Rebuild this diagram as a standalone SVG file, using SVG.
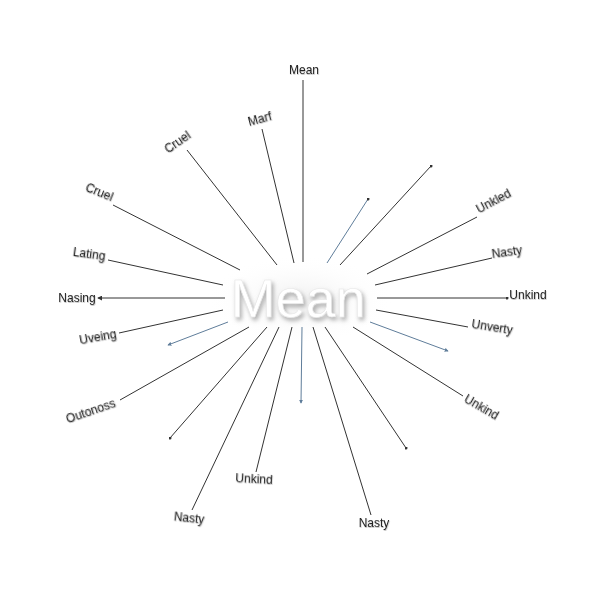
<svg xmlns="http://www.w3.org/2000/svg" width="600" height="600" viewBox="0 0 600 600">
<defs>
<style>
.ln{stroke:#333;stroke-width:1;fill:none}
.bl{stroke:#5f7d9a;stroke-width:1;fill:none}
.lb{font-family:"Liberation Sans",Arial,sans-serif;font-size:12px;fill:#222;text-anchor:middle;dominant-baseline:middle}
.hub{font-family:"Liberation Sans",Arial,sans-serif;font-size:54px;fill:#ffffff;stroke:#e6e6e6;stroke-width:0.6;text-anchor:middle}
</style>
<filter id="sh" x="-20%" y="-30%" width="140%" height="170%">
<feDropShadow dx="2" dy="3" stdDeviation="2" flood-color="#8a8a8a" flood-opacity="0.7"/>
</filter>
<filter id="ts" x="-10%" y="-30%" width="120%" height="170%">
<feDropShadow dx="0.5" dy="1" stdDeviation="0.6" flood-color="#000" flood-opacity="0.25"/>
</filter>
<radialGradient id="glow" cx="50%" cy="50%" r="50%">
<stop offset="0" stop-color="#ededed" stop-opacity="0.9"/>
<stop offset="1" stop-color="#ffffff" stop-opacity="0"/>
</radialGradient>
<marker id="ah" viewBox="0 0 6 6" refX="5" refY="3" markerWidth="5" markerHeight="5" orient="auto">
<path d="M0,0 L6,3 L0,6 z" fill="#333"/>
</marker>
<marker id="ahb" viewBox="0 0 6 6" refX="5" refY="3" markerWidth="4" markerHeight="4" orient="auto">
<path d="M0,0 L6,3 L0,6 z" fill="#5f7d9a"/>
</marker>
<marker id="dot" viewBox="0 0 4 4" refX="2" refY="2" markerWidth="3" markerHeight="3">
<circle cx="2" cy="2" r="2" fill="#333"/>
</marker>
</defs>
<rect width="600" height="600" fill="#ffffff"/>
<ellipse cx="300" cy="300" rx="95" ry="45" fill="url(#glow)"/>
<g id="connectors">
<line class="ln" x1="303" y1="262" x2="303" y2="80"/>
<line class="ln" x1="294" y1="263" x2="262" y2="129"/>
<line class="ln" x1="277" y1="265" x2="187" y2="150"/>
<line class="ln" x1="240" y1="270" x2="113" y2="205"/>
<line class="ln" x1="223" y1="285" x2="108" y2="260"/>
<line class="ln" x1="225" y1="298" x2="98" y2="298" marker-end="url(#ah)"/>
<line class="ln" x1="223" y1="310" x2="119" y2="333"/>
<line class="bl" x1="228" y1="322" x2="168" y2="345" marker-end="url(#ahb)"/>
<line class="ln" x1="249" y1="327" x2="120" y2="400"/>
<line class="ln" x1="267" y1="327" x2="170" y2="438" marker-end="url(#dot)"/>
<line class="ln" x1="279" y1="327" x2="192" y2="510"/>
<line class="ln" x1="292" y1="327" x2="256" y2="472"/>
<line class="bl" x1="302" y1="327" x2="301" y2="403" marker-end="url(#ahb)"/>
<line class="ln" x1="313" y1="327" x2="371" y2="515"/>
<line class="ln" x1="325" y1="327" x2="406" y2="448" marker-end="url(#dot)"/>
<line class="ln" x1="353" y1="327" x2="463" y2="396"/>
<line class="bl" x1="370" y1="322" x2="448" y2="351" marker-end="url(#ahb)"/>
<line class="ln" x1="376" y1="310" x2="468" y2="327"/>
<line class="ln" x1="377" y1="298" x2="507" y2="298" marker-end="url(#dot)"/>
<line class="ln" x1="375" y1="285" x2="492" y2="258"/>
<line class="ln" x1="367" y1="274" x2="477" y2="217"/>
<line class="ln" x1="340" y1="265" x2="431" y2="166" marker-end="url(#dot)"/>
<line class="bl" x1="327" y1="263" x2="368" y2="199" marker-end="url(#dot)"/>
</g>
<g id="hub"><text class="hub" x="298" y="317" filter="url(#sh)">Mean</text></g>
<g id="n-mean-top"><text class="lb" x="304" y="71" filter="url(#ts)">Mean</text></g>
<g id="n-marf"><text class="lb" x="260" y="120" transform="rotate(-15 260 120)" filter="url(#ts)">Marf</text></g>
<g id="n-cruel1"><text class="lb" x="178" y="143" transform="rotate(-35 178 143)" filter="url(#ts)">Cruel</text></g>
<g id="n-cruel2"><text class="lb" x="99" y="193" transform="rotate(22 99 193)" filter="url(#ts)">Cruel</text></g>
<g id="n-lating"><text class="lb" x="89" y="255" transform="rotate(8 89 255)" filter="url(#ts)">Lating</text></g>
<g id="n-nasing"><text class="lb" x="77" y="299" filter="url(#ts)">Nasing</text></g>
<g id="n-uveing"><text class="lb" x="98" y="338" transform="rotate(-10 98 338)" filter="url(#ts)">Uveing</text></g>
<g id="n-outonoss"><text class="lb" x="91" y="412" transform="rotate(-19 91 412)" filter="url(#ts)">Outonoss</text></g>
<g id="n-nasty-bl"><text class="lb" x="189" y="519" transform="rotate(6 189 519)" filter="url(#ts)">Nasty</text></g>
<g id="n-unkind-b"><text class="lb" x="254" y="480" transform="rotate(3 254 480)" filter="url(#ts)">Unkind</text></g>
<g id="n-nasty-br"><text class="lb" x="374" y="524" filter="url(#ts)">Nasty</text></g>
<g id="n-unkind-br"><text class="lb" x="481" y="408" transform="rotate(30 481 408)" filter="url(#ts)">Unkind</text></g>
<g id="n-unverty"><text class="lb" x="492" y="328" transform="rotate(9 492 328)" filter="url(#ts)">Unverty</text></g>
<g id="n-unkind-r"><text class="lb" x="528" y="296" filter="url(#ts)">Unkind</text></g>
<g id="n-nasty-r"><text class="lb" x="507" y="253" transform="rotate(-8 507 253)" filter="url(#ts)">Nasty</text></g>
<g id="n-unkled"><text class="lb" x="494" y="202" transform="rotate(-28 494 202)" filter="url(#ts)">Unkled</text></g>
</svg>
